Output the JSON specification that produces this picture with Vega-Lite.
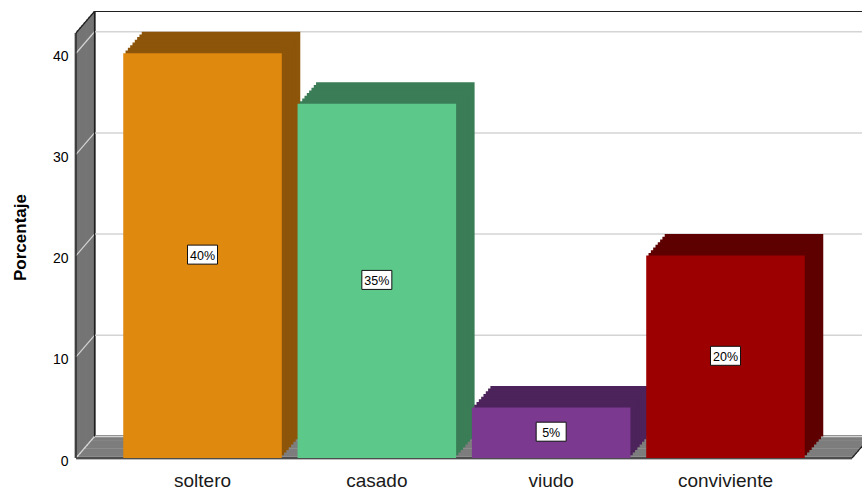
{
"$schema": "https://vega.github.io/schema/vega-lite/v6.json",
"width": 776, "height": 425,
"autosize": {"type": "none"},
"padding": {"left": 76, "top": 33, "right": 10, "bottom": 31},
"background": "white",
"config": {"view": {"stroke": null}, "font": "Liberation Sans"},
"data": {"values": [
 {"estado": "soltero", "pct": 40, "label": "40%"},
 {"estado": "casado", "pct": 35, "label": "35%"},
 {"estado": "viudo", "pct": 5, "label": "5%"},
 {"estado": "conviviente", "pct": 20, "label": "20%"}
]},
"encoding": {
 "x": {"field": "estado", "type": "nominal", "sort": null, "title": null,
  "scale": {"paddingInner": 0.0906, "paddingOuter": 0.271},
  "axis": {"labelAngle": 0, "labelFontSize": 19, "labelColor": "#1a1a1a", "labelPadding": 13, "ticks": false, "domain": false, "grid": false}},
 "y": {"field": "pct", "type": "quantitative", "title": "Porcentaje",
  "scale": {"domain": [0, 42], "nice": false},
  "axis": {"values": [0, 10, 20, 30, 40], "labelFontSize": 14, "labelColor": "#000", "labelPadding": 8, "labelOffset": 3, "ticks": false, "domain": false, "grid": false,
   "titleFontSize": 17, "titleFontWeight": "bold", "titleColor": "#000", "titleX": -56, "titleY": 204, "titleAngle": -90, "titleAlign": "center", "titleBaseline": "middle"}}
},
"layer": [
 {"transform": [{"filter": "datum.estado == 'soltero'"}], "mark": {"type": "rule", "color": "#7d7d7d", "strokeWidth": 3, "xOffset": 0, "x2Offset": 0, "yOffset": 0, "y2Offset": 0}, "encoding": {"x": {"value": 0}, "x2": {"value": "width"}, "y": {"datum": 0}}},
 {"transform": [{"filter": "datum.estado == 'soltero'"}], "mark": {"type": "rule", "color": "#7d7d7d", "strokeWidth": 3, "xOffset": 2.31, "x2Offset": 2.31, "yOffset": -2.69, "y2Offset": -2.69}, "encoding": {"x": {"value": 0}, "x2": {"value": "width"}, "y": {"datum": 0}}},
 {"transform": [{"filter": "datum.estado == 'soltero'"}], "mark": {"type": "rule", "color": "#7d7d7d", "strokeWidth": 3, "xOffset": 4.63, "x2Offset": 4.63, "yOffset": -5.38, "y2Offset": -5.38}, "encoding": {"x": {"value": 0}, "x2": {"value": "width"}, "y": {"datum": 0}}},
 {"transform": [{"filter": "datum.estado == 'soltero'"}], "mark": {"type": "rule", "color": "#7d7d7d", "strokeWidth": 3, "xOffset": 6.94, "x2Offset": 6.94, "yOffset": -8.06, "y2Offset": -8.06}, "encoding": {"x": {"value": 0}, "x2": {"value": "width"}, "y": {"datum": 0}}},
 {"transform": [{"filter": "datum.estado == 'soltero'"}], "mark": {"type": "rule", "color": "#7d7d7d", "strokeWidth": 3, "xOffset": 9.25, "x2Offset": 9.25, "yOffset": -10.75, "y2Offset": -10.75}, "encoding": {"x": {"value": 0}, "x2": {"value": "width"}, "y": {"datum": 0}}},
 {"transform": [{"filter": "datum.estado == 'soltero'"}], "mark": {"type": "rule", "color": "#7d7d7d", "strokeWidth": 3, "xOffset": 11.56, "x2Offset": 11.56, "yOffset": -13.44, "y2Offset": -13.44}, "encoding": {"x": {"value": 0}, "x2": {"value": "width"}, "y": {"datum": 0}}},
 {"transform": [{"filter": "datum.estado == 'soltero'"}], "mark": {"type": "rule", "color": "#7d7d7d", "strokeWidth": 3, "xOffset": 13.88, "x2Offset": 13.88, "yOffset": -16.13, "y2Offset": -16.13}, "encoding": {"x": {"value": 0}, "x2": {"value": "width"}, "y": {"datum": 0}}},
 {"transform": [{"filter": "datum.estado == 'soltero'"}], "mark": {"type": "rule", "color": "#7d7d7d", "strokeWidth": 3, "xOffset": 16.19, "x2Offset": 16.19, "yOffset": -18.81, "y2Offset": -18.81}, "encoding": {"x": {"value": 0}, "x2": {"value": "width"}, "y": {"datum": 0}}},
 {"transform": [{"filter": "datum.estado == 'soltero'"}], "mark": {"type": "rule", "color": "#7d7d7d", "strokeWidth": 3, "xOffset": 18.5, "x2Offset": 18.5, "yOffset": -21.5, "y2Offset": -21.5}, "encoding": {"x": {"value": 0}, "x2": {"value": "width"}, "y": {"datum": 0}}},

 {"transform": [{"filter": "datum.estado == 'soltero'"}], "mark": {"type": "rule", "color": "#747474", "strokeWidth": 3, "xOffset": 0, "x2Offset": 0, "yOffset": 0, "y2Offset": 0}, "encoding": {"x": {"value": 0}, "y": {"datum": 42}, "y2": {"datum": 0}}},
 {"transform": [{"filter": "datum.estado == 'soltero'"}], "mark": {"type": "rule", "color": "#747474", "strokeWidth": 3, "xOffset": 2.31, "x2Offset": 2.31, "yOffset": -2.69, "y2Offset": -2.69}, "encoding": {"x": {"value": 0}, "y": {"datum": 42}, "y2": {"datum": 0}}},
 {"transform": [{"filter": "datum.estado == 'soltero'"}], "mark": {"type": "rule", "color": "#747474", "strokeWidth": 3, "xOffset": 4.63, "x2Offset": 4.63, "yOffset": -5.38, "y2Offset": -5.38}, "encoding": {"x": {"value": 0}, "y": {"datum": 42}, "y2": {"datum": 0}}},
 {"transform": [{"filter": "datum.estado == 'soltero'"}], "mark": {"type": "rule", "color": "#747474", "strokeWidth": 3, "xOffset": 6.94, "x2Offset": 6.94, "yOffset": -8.06, "y2Offset": -8.06}, "encoding": {"x": {"value": 0}, "y": {"datum": 42}, "y2": {"datum": 0}}},
 {"transform": [{"filter": "datum.estado == 'soltero'"}], "mark": {"type": "rule", "color": "#747474", "strokeWidth": 3, "xOffset": 9.25, "x2Offset": 9.25, "yOffset": -10.75, "y2Offset": -10.75}, "encoding": {"x": {"value": 0}, "y": {"datum": 42}, "y2": {"datum": 0}}},
 {"transform": [{"filter": "datum.estado == 'soltero'"}], "mark": {"type": "rule", "color": "#747474", "strokeWidth": 3, "xOffset": 11.56, "x2Offset": 11.56, "yOffset": -13.44, "y2Offset": -13.44}, "encoding": {"x": {"value": 0}, "y": {"datum": 42}, "y2": {"datum": 0}}},
 {"transform": [{"filter": "datum.estado == 'soltero'"}], "mark": {"type": "rule", "color": "#747474", "strokeWidth": 3, "xOffset": 13.88, "x2Offset": 13.88, "yOffset": -16.13, "y2Offset": -16.13}, "encoding": {"x": {"value": 0}, "y": {"datum": 42}, "y2": {"datum": 0}}},
 {"transform": [{"filter": "datum.estado == 'soltero'"}], "mark": {"type": "rule", "color": "#747474", "strokeWidth": 3, "xOffset": 16.19, "x2Offset": 16.19, "yOffset": -18.81, "y2Offset": -18.81}, "encoding": {"x": {"value": 0}, "y": {"datum": 42}, "y2": {"datum": 0}}},
 {"transform": [{"filter": "datum.estado == 'soltero'"}], "mark": {"type": "rule", "color": "#747474", "strokeWidth": 3, "xOffset": 18.5, "x2Offset": 18.5, "yOffset": -21.5, "y2Offset": -21.5}, "encoding": {"x": {"value": 0}, "y": {"datum": 42}, "y2": {"datum": 0}}},

 {"data": {"values": [{"t": 0}, {"t": 10}, {"t": 20}, {"t": 30}, {"t": 40}]}, "mark": {"type": "rule", "color": "#d4d4d4", "strokeWidth": 1.5, "xOffset": 18.5, "x2Offset": 18.5, "yOffset": -21.5, "y2Offset": -21.5}, "encoding": {"x": {"value": 0}, "x2": {"value": "width"}, "y": {"field": "t", "type": "quantitative", "title": "Porcentaje"}}},
 {"data": {"values": [{"t": 0}, {"t": 10}, {"t": 20}, {"t": 30}, {"t": 40}]}, "mark": {"type": "rule", "color": "#d4d4d4", "strokeWidth": 1.2, "x2Offset": 18.5, "y2Offset": -21.5}, "encoding": {"x": {"value": 0}, "x2": {"value": 0}, "y": {"field": "t", "type": "quantitative", "title": "Porcentaje"}, "y2": {"field": "t"}}},

 {"transform": [{"filter": "datum.estado == 'soltero'"}], "mark": {"type": "rule", "color": "#1e1e1e", "strokeWidth": 1.2}, "encoding": {"x": {"value": 0}, "y": {"datum": 42}, "y2": {"datum": 0}}},
 {"transform": [{"filter": "datum.estado == 'soltero'"}], "mark": {"type": "rule", "color": "#1e1e1e", "strokeWidth": 1.2, "xOffset": 18.5, "x2Offset": 18.5, "yOffset": -21.5, "y2Offset": -21.5}, "encoding": {"x": {"value": 0}, "y": {"datum": 42}, "y2": {"datum": 0}}},
 {"transform": [{"filter": "datum.estado == 'soltero'"}], "mark": {"type": "rule", "color": "#1e1e1e", "strokeWidth": 1.2, "x2Offset": 18.5, "y2Offset": -21.5}, "encoding": {"x": {"value": 0}, "x2": {"value": 0}, "y": {"datum": 42}, "y2": {"datum": 42}}},
 {"transform": [{"filter": "datum.estado == 'soltero'"}], "mark": {"type": "rule", "color": "#1e1e1e", "strokeWidth": 1.2, "xOffset": 18.5, "x2Offset": 18.5, "yOffset": -21.5, "y2Offset": -21.5}, "encoding": {"x": {"value": 0}, "x2": {"value": "width"}, "y": {"datum": 42}}},
 {"transform": [{"filter": "datum.estado == 'soltero'"}], "mark": {"type": "rule", "color": "#1e1e1e", "strokeWidth": 1.2}, "encoding": {"x": {"value": 0}, "x2": {"value": "width"}, "y": {"datum": 0}}},
 {"transform": [{"filter": "datum.estado == 'soltero'"}], "mark": {"type": "rule", "color": "#1e1e1e", "strokeWidth": 1.2, "x2Offset": 18.5, "y2Offset": -21.5}, "encoding": {"x": {"value": "width"}, "x2": {"value": "width"}, "y": {"datum": 0}, "y2": {"datum": 0}}},

 {"mark": {"type": "bar", "xOffset": 18.5, "x2Offset": 18.5, "yOffset": -21.5, "y2Offset": -21.5}, "encoding": {"fill": {"field": "estado", "type": "nominal", "scale": {"domain": ["soltero", "casado", "viudo", "conviviente"], "range": ["#8c5509", "#3a7d56", "#4d235b", "#5e0000"]}, "legend": null}}},
 {"mark": {"type": "bar", "xOffset": 16.19, "x2Offset": 16.19, "yOffset": -18.81, "y2Offset": -18.81}, "encoding": {"fill": {"field": "estado", "type": "nominal", "scale": {"domain": ["soltero", "casado", "viudo", "conviviente"], "range": ["#8c5509", "#3a7d56", "#4d235b", "#5e0000"]}, "legend": null}}},
 {"mark": {"type": "bar", "xOffset": 13.88, "x2Offset": 13.88, "yOffset": -16.13, "y2Offset": -16.13}, "encoding": {"fill": {"field": "estado", "type": "nominal", "scale": {"domain": ["soltero", "casado", "viudo", "conviviente"], "range": ["#8c5509", "#3a7d56", "#4d235b", "#5e0000"]}, "legend": null}}},
 {"mark": {"type": "bar", "xOffset": 11.56, "x2Offset": 11.56, "yOffset": -13.44, "y2Offset": -13.44}, "encoding": {"fill": {"field": "estado", "type": "nominal", "scale": {"domain": ["soltero", "casado", "viudo", "conviviente"], "range": ["#8c5509", "#3a7d56", "#4d235b", "#5e0000"]}, "legend": null}}},
 {"mark": {"type": "bar", "xOffset": 9.25, "x2Offset": 9.25, "yOffset": -10.75, "y2Offset": -10.75}, "encoding": {"fill": {"field": "estado", "type": "nominal", "scale": {"domain": ["soltero", "casado", "viudo", "conviviente"], "range": ["#8c5509", "#3a7d56", "#4d235b", "#5e0000"]}, "legend": null}}},
 {"mark": {"type": "bar", "xOffset": 6.94, "x2Offset": 6.94, "yOffset": -8.06, "y2Offset": -8.06}, "encoding": {"fill": {"field": "estado", "type": "nominal", "scale": {"domain": ["soltero", "casado", "viudo", "conviviente"], "range": ["#8c5509", "#3a7d56", "#4d235b", "#5e0000"]}, "legend": null}}},
 {"mark": {"type": "bar", "xOffset": 4.63, "x2Offset": 4.63, "yOffset": -5.38, "y2Offset": -5.38}, "encoding": {"fill": {"field": "estado", "type": "nominal", "scale": {"domain": ["soltero", "casado", "viudo", "conviviente"], "range": ["#8c5509", "#3a7d56", "#4d235b", "#5e0000"]}, "legend": null}}},
 {"mark": {"type": "bar", "xOffset": 2.31, "x2Offset": 2.31, "yOffset": -2.69, "y2Offset": -2.69}, "encoding": {"fill": {"field": "estado", "type": "nominal", "scale": {"domain": ["soltero", "casado", "viudo", "conviviente"], "range": ["#8c5509", "#3a7d56", "#4d235b", "#5e0000"]}, "legend": null}}},

 {"mark": {"type": "bar"}, "encoding": {"color": {"field": "estado", "type": "nominal", "scale": {"domain": ["soltero", "casado", "viudo", "conviviente"], "range": ["#e0890f", "#5cc98a", "#7b3990", "#9c0000"]}, "legend": null}}},

 {"transform": [{"calculate": "datum.pct / 2", "as": "mid"}], "mark": {"type": "point", "shape": "M-15,-9.5L15,-9.5L15,9.5L-15,9.5Z", "size": 4, "filled": true, "fill": "white", "stroke": "#111111", "strokeWidth": 1, "opacity": 1, "yOffset": -1}, "encoding": {"y": {"field": "mid", "type": "quantitative", "title": "Porcentaje"}}},
 {"transform": [{"calculate": "datum.pct / 2", "as": "mid"}], "mark": {"type": "text", "fontSize": 12.5, "color": "#000000", "baseline": "middle", "align": "center"}, "encoding": {"y": {"field": "mid", "type": "quantitative", "title": "Porcentaje"}, "text": {"field": "label"}}}
]
}
